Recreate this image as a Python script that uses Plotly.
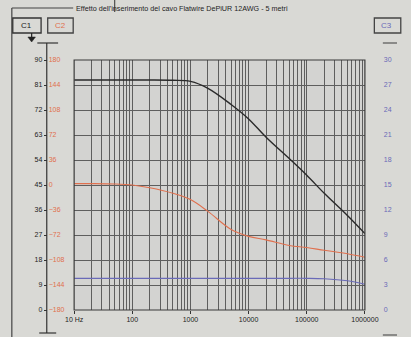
import plotly.graph_objects as go

# ---- data ----
freq = [10, 20, 50, 100, 200, 500, 1000, 2000, 5000, 10000, 20000, 50000,
        100000, 200000, 500000, 1000000]
c1_level = [82.8, 82.8, 82.8, 82.8, 82.8, 82.7, 82.3, 79.8, 74.0, 68.8, 62.2,
            54.5, 48.5, 42.0, 34.0, 27.5]
c2_phase = [2, 2, 1.5, 0, -4, -12, -21, -38, -64, -74, -79, -87, -90, -94,
            -99, -104]
c3_values = [3.8, 3.8, 3.8, 3.8, 3.8, 3.8, 3.8, 3.8, 3.8, 3.8, 3.8, 3.8, 3.8,
             3.75, 3.5, 3.1]

x_tickvals = [10, 100, 1000, 10000, 100000, 1000000]
x_ticktext = ["10 Hz", "100", "1000", "10000", "100000", "1000000"]
c1_ticks = list(range(0, 91, 9))
c2_ticks = list(range(-180, 181, 36))
c3_ticks = list(range(0, 31, 3))
title_text = "Effetto dell'inserimento del cavo Flatwire DePiUR 12AWG - 5 metri"

# ---- geometry helpers (pixel -> paper) ----
W, H = 411, 337
L, R, T, B = 69, 377, 60, 310


def px(x):
    return x / W


def py(y):
    return (B - y) / (B - T)


minor_vals = [m * 10 ** e for e in range(1, 6) for m in range(2, 10)]

GRID = "#5e5e5e"
ORANGE = "#e0704e"
BLUE = "#6a6ab8"

fig = go.Figure()
fig.add_trace(go.Scatter(x=freq, y=c1_level, mode="lines", yaxis="y",
                         line=dict(color="#2a2a2a", width=1.4, shape="spline"),
                         hoverinfo="skip", showlegend=False))
fig.add_trace(go.Scatter(x=freq, y=c2_phase, mode="lines", yaxis="y2",
                         line=dict(color=ORANGE, width=1.1, shape="spline"),
                         hoverinfo="skip", showlegend=False))
fig.add_trace(go.Scatter(x=freq, y=c3_values, mode="lines", yaxis="y3",
                         line=dict(color=BLUE, width=1.1, shape="spline"),
                         hoverinfo="skip", showlegend=False))

shapes = []


def line(x0, y0, x1, y1, color="#333333", width=1):
    shapes.append(dict(type="line", xref="paper", yref="paper",
                       x0=px(x0), y0=py(y0), x1=px(x1), y1=py(y1),
                       line=dict(color=color, width=width)))


def rect(x0, y0, x1, y1, color="#333333", width=1):
    shapes.append(dict(type="rect", xref="paper", yref="paper",
                       x0=px(x0), y0=py(y0), x1=px(x1), y1=py(y1),
                       line=dict(color=color, width=width)))


# plot border
shapes.append(dict(type="rect", xref="x domain", yref="y domain",
                   x0=0, y0=0, x1=1, y1=1, line=dict(color="#3a3a3a", width=1.2)))
# outer frame
line(3, 8, 3, 337, "#444444", 1.2)
line(3, 8, 68, 8, "#444444", 1.2)
line(112, 0, 112, 12, "#333333", 1)
# left axis line + caps
line(40, 43, 40, 333, "#333333", 1.2)
line(30, 43, 52, 43, "#333333", 1.2)
line(32, 333, 50, 333, "#333333", 1.2)
# right caps
line(396, 43, 411, 43, "#555555", 1.2)
line(396, 335, 411, 335, "#555555", 1.2)
# legend boxes
rect(4, 18, 34, 33, "#333333", 1.3)
rect(41, 18, 68, 33, "#444444", 1.3)
rect(387, 18, 415, 33, "#444444", 1.3)
# arrow under C1
line(24, 33, 24, 38, "#222222", 1.2)
shapes.append(dict(type="path", xref="paper", yref="paper",
                   path=f"M {px(20)} {py(37)} L {px(28)} {py(37)} L {px(24)} {py(42)} Z",
                   fillcolor="#222222", line=dict(color="#222222", width=0.5)))

annotations = [
    dict(text=title_text, xref="paper", yref="paper", x=px(69), y=py(8),
         xanchor="left", yanchor="middle", showarrow=False,
         font=dict(family="Liberation Sans", size=7.2, color="#1e1e1e")),
    dict(text="C1", xref="paper", yref="paper", x=px(19), y=py(25.5),
         xanchor="center", yanchor="middle", showarrow=False,
         font=dict(family="Liberation Sans", size=8, color="#222222")),
    dict(text="C2", xref="paper", yref="paper", x=px(54.5), y=py(25.5),
         xanchor="center", yanchor="middle", showarrow=False,
         font=dict(family="Liberation Sans", size=8, color=ORANGE)),
    dict(text="C3", xref="paper", yref="paper", x=px(400), y=py(25.5),
         xanchor="center", yanchor="middle", showarrow=False,
         font=dict(family="Liberation Sans", size=8, color=BLUE)),
]

fig.update_layout(
    width=W, height=H,
    margin=dict(l=0, r=0, t=T, b=H - B, pad=0),
    paper_bgcolor="#d9d9d5",
    plot_bgcolor="#d3d3d1",
    shapes=shapes,
    annotations=annotations,
    xaxis=dict(type="log", range=[1, 6], domain=[px(L), px(R)],
               tickvals=x_tickvals, ticktext=x_ticktext,
               showgrid=True, gridcolor=GRID, gridwidth=1,
               ticks="outside", ticklen=3, tickcolor="#333333",
               tickfont=dict(family="Liberation Sans", size=7, color="#222222"),
               minor=dict(tickvals=minor_vals, showgrid=True, gridcolor=GRID,
                          gridwidth=1, ticks=""),
               showline=False, zeroline=False, fixedrange=True),
    yaxis=dict(range=[0, 90], tickvals=c1_ticks, anchor="free", position=px(40),
               side="left", showgrid=True, gridcolor=GRID, gridwidth=1,
               ticks="outside", ticklen=3, tickcolor="#333333",
               tickfont=dict(family="Liberation Sans", size=7, color="#222222"),
               showline=False, zeroline=False, fixedrange=True),
    yaxis2=dict(range=[-180, 180], tickvals=c2_ticks, anchor="free",
                position=px(41), side="right", overlaying="y",
                showgrid=False, zeroline=False, ticks="",
                tickfont=dict(family="Liberation Sans", size=7, color=ORANGE),
                fixedrange=True),
    yaxis3=dict(range=[0, 30], tickvals=c3_ticks, anchor="free",
                position=px(396), side="right", overlaying="y",
                showgrid=False, zeroline=False, ticks="",
                tickfont=dict(family="Liberation Sans", size=7, color=BLUE),
                fixedrange=True),
)

fig.write_html("out.html", config={"displayModeBar": False},
               post_script="document.body.style.margin='0';"
                           "document.body.style.overflow='hidden';")
